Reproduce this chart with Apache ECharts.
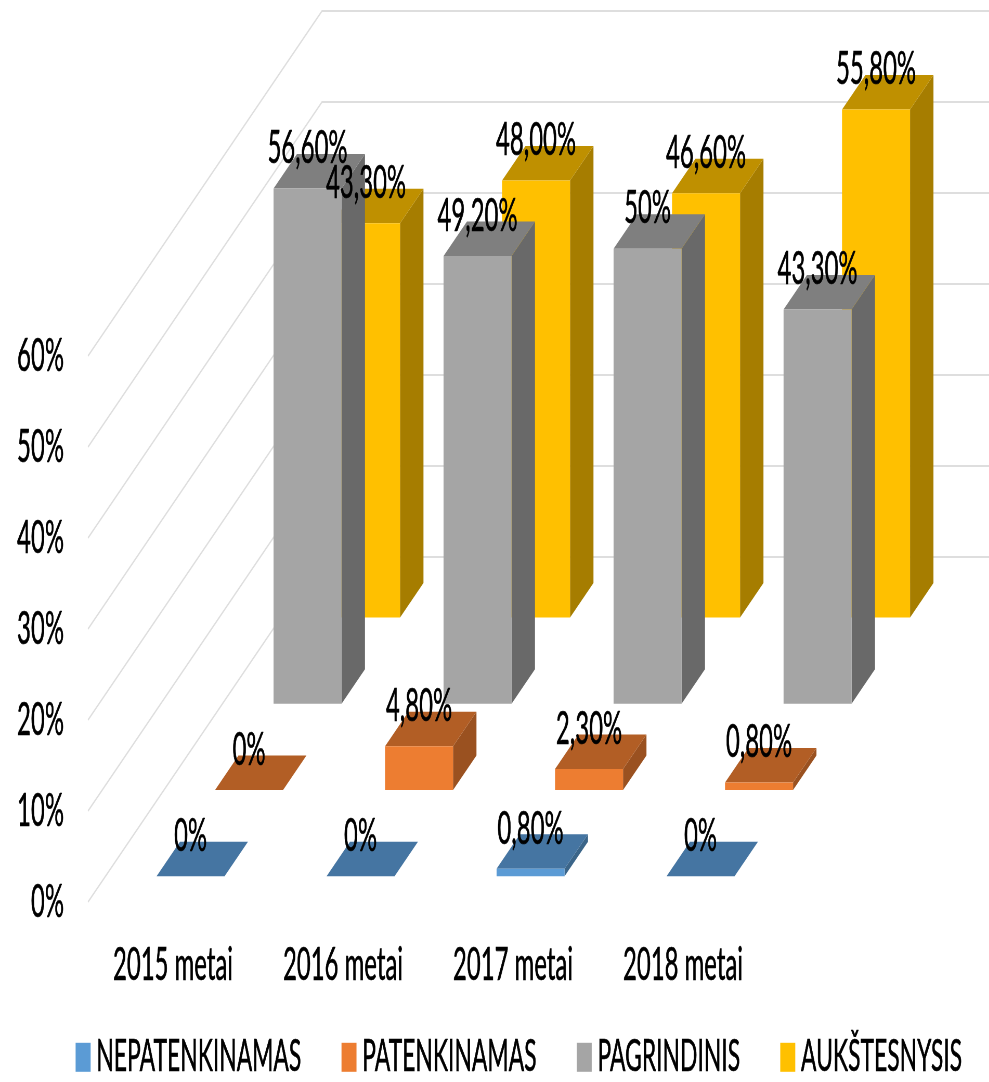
<!DOCTYPE html>
<html>
<head>
<meta charset="utf-8">
<style>
html,body{margin:0;padding:0;background:#fff;overflow:hidden;width:989px;height:1082px}
#clip{width:989px;height:1082px;overflow:hidden;position:relative}
#chart{height:1082px;transform-origin:0 0;position:absolute;left:0;top:0}
</style>
<script src="https://cdn.jsdelivr.net/npm/echarts@6/dist/echarts.min.js"></script>
</head>
<body>
<div id="clip"><div id="chart"></div></div>
<script>
const categories = ['2015 metai', '2016 metai', '2017 metai', '2018 metai'];
const tickValues = [0, 10, 20, 30, 40, 50, 60];
const nepatenkinamas = [0, 0, 0.8, 0];
const patenkinamas = [0, 4.8, 2.3, 0.8];
const pagrindinis = [56.6, 49.2, 50, 43.3];
const aukstesnysis = [43.3, 48, 46.6, 55.8];
const nepatenkinamasLabels = ['0%', '0%', '0,80%', '0%'];
const patenkinamasLabels = ['0%', '4,80%', '2,30%', '0,80%'];
const pagrindinisLabels = ['56,60%', '49,20%', '50%', '43,30%'];
const aukstesnysisLabels = ['43,30%', '48,00%', '46,60%', '55,80%'];

// The source picture is squeezed horizontally; the whole chart is drawn wide and scaled.
const SX = 0.52;
const el = document.getElementById('chart');
el.style.width = (989 / SX) + 'px';
el.style.transform = 'scaleX(' + SX + ')';

const DEPTH_X = 234 / SX, DEPTH_Y = -345;
const FONT = 'Lato';
const FS = 46;
const LEGEND_FS = 44;
const HEAVY = 0.6;

const rows = [
  {name: 'NEPATENKINAMAS', data: nepatenkinamas, labels: nepatenkinamasLabels, depth: 0.125, front: '#5B9BD5', top: '#4575A2', side: '#3B6589'},
  {name: 'PATENKINAMAS', data: patenkinamas, labels: patenkinamasLabels, depth: 0.375, front: '#ED7D31', top: '#B25E25', side: '#9A5120'},
  {name: 'PAGRINDINIS', data: pagrindinis, labels: pagrindinisLabels, depth: 0.625, front: '#A5A5A5', top: '#7F7F7F', side: '#696969'},
  {name: 'AUKŠTESNYSIS', data: aukstesnysis, labels: aukstesnysisLabels, depth: 0.875, front: '#FFC000', top: '#BF9000', side: '#A67D00'}
];
const BAR_W = 0.4, BAR_D = 0.1;

function poly(points, fill) {
  return {type: 'polygon', shape: {points}, style: {fill, stroke: null}};
}

function wallItem(params, api) {
  const p = api.coord([0, api.value(0)]);
  const x0 = params.coordSys.x;
  return {
    type: 'polyline', silent: true,
    shape: {points: [[x0, p[1]], [x0 + DEPTH_X, p[1] + DEPTH_Y], [api.getWidth(), p[1] + DEPTH_Y]]},
    style: {stroke: '#DEDEDE', lineWidth: 2, fill: null}
  };
}

function barItem(row) {
  return function (params, api) {
    const base = api.coord([api.value(0), 0]);
    const topP = api.coord([api.value(0), api.value(1)]);
    const w = api.size([1, 0])[0] * BAR_W;
    const d0 = row.depth - BAR_D / 2;
    const dx = DEPTH_X * BAR_D, dy = DEPTH_Y * BAR_D;
    const xl = base[0] - w / 2 + DEPTH_X * d0, xr = xl + w;
    const yb = base[1] + DEPTH_Y * d0, yt = topP[1] + DEPTH_Y * d0;
    return {type: 'group', children: [
      poly([[xr, yb], [xr + dx, yb + dy], [xr + dx, yt + dy], [xr, yt]], row.side),
      poly([[xl, yt], [xr, yt], [xr + dx, yt + dy], [xl + dx, yt + dy]], row.top),
      poly([[xl, yb], [xr, yb], [xr, yt], [xl, yt]], row.front)
    ]};
  };
}

function labelItem(row) {
  return function (params, api) {
    const base = api.coord([api.value(0), api.value(1)]);
    const d0 = row.depth - BAR_D / 2;
    return {
      type: 'text',
      style: {
        x: base[0] + DEPTH_X * d0,
        y: base[1] + DEPTH_Y * d0 - 40,
        text: row.labels[params.dataIndex],
        fill: '#000', font: FS + 'px ' + FONT,
        stroke: '#000', lineWidth: HEAVY,
        textAlign: 'center', textVerticalAlign: 'middle'
      }
    };
  };
}

const series = [{
  type: 'custom', name: 'walls', z: 1, silent: true, clip: false,
  coordinateSystem: 'cartesian2d',
  data: tickValues.map(v => [v]),
  encode: {y: 0},
  renderItem: wallItem
}];
rows.slice().reverse().forEach((row, i) => {
  series.push({
    type: 'custom', name: row.name, z: 2 + i, clip: false,
    coordinateSystem: 'cartesian2d',
    itemStyle: {color: row.front},
    data: row.data.map((v, c) => [c, v]),
    encode: {x: 0, y: 1},
    renderItem: barItem(row)
  });
});
rows.slice().reverse().forEach(row => {
  series.push({
    type: 'custom', name: row.name + ' labels', z: 20, silent: true, clip: false,
    coordinateSystem: 'cartesian2d',
    data: row.data.map((v, c) => [c, v]),
    encode: {x: 0, y: 1},
    renderItem: labelItem(row)
  });
});

const chart = echarts.init(el, null, {renderer: 'canvas'});
chart.setOption({
  animation: false,
  backgroundColor: '#fff',
  grid: {left: 88 / SX, width: 680 / SX, top: 356, bottom: 180, containLabel: false},
  xAxis: {
    type: 'category', data: categories,
    axisLine: {show: false}, axisTick: {show: false}, splitLine: {show: false},
    axisLabel: {margin: 40, fontFamily: FONT, fontSize: FS, color: '#000', interval: 0, textBorderColor: '#000', textBorderWidth: HEAVY}
  },
  yAxis: {
    type: 'value', min: 0, max: 60, interval: 10,
    axisLine: {show: false}, axisTick: {show: false}, splitLine: {show: false},
    axisLabel: {margin: 24 / SX, fontFamily: FONT, fontSize: FS, color: '#000', formatter: '{value}%', textBorderColor: '#000', textBorderWidth: HEAVY}
  },
  legend: {
    data: rows.map(r => ({name: r.name, icon: 'rect', itemStyle: {color: r.front}})),
    left: 73 / SX, top: 1030, orient: 'horizontal',
    itemWidth: 15 / SX, itemHeight: 29, itemGap: 40 / SX,
    selectedMode: false,
    textStyle: {fontFamily: FONT, fontSize: LEGEND_FS, color: '#000', padding: [0, 0, 0, 6], textBorderColor: '#000', textBorderWidth: HEAVY}
  },
  series
});
</script>
</body>
</html>
